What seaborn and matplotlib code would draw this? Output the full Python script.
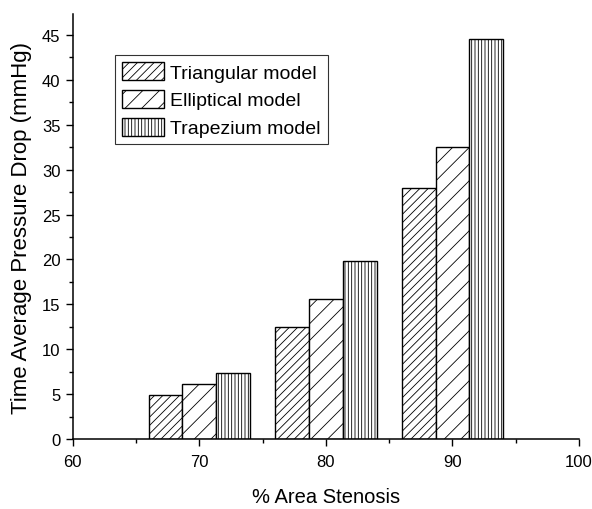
import pandas as pd
import matplotlib.pyplot as plt
import seaborn as sns
from matplotlib.ticker import MultipleLocator

# -----------------------------
# DATA
# -----------------------------
stenosis = [70, 80, 90]
models = ["Triangular model", "Elliptical model", "Trapezium model"]
triangular = [4.9, 12.5, 28.0]
elliptical = [6.1, 15.6, 32.5]
trapezium = [7.4, 19.8, 44.6]
hatches = ["////", "//", "|||||"]

df = pd.DataFrame({
    "stenosis": stenosis * 3,
    "model": [m for m in models for _ in stenosis],
    "drop": triangular + elliptical + trapezium,
})

# -----------------------------
# STYLE
# -----------------------------
sns.set_style("ticks")
plt.rcParams["font.family"] = ["Liberation Sans", "DejaVu Sans"]
plt.rcParams["hatch.linewidth"] = 0.6
plt.rcParams["text.color"] = "black"
plt.rcParams["axes.labelcolor"] = "black"
plt.rcParams["xtick.color"] = "black"
plt.rcParams["ytick.color"] = "black"

fig, ax = plt.subplots(figsize=(5.92, 5.10), dpi=100)
fig.subplots_adjust(left=0.123, right=0.978, bottom=0.137, top=0.97)

sns.barplot(data=df, x="stenosis", y="drop", hue="model", hue_order=models,
            native_scale=True, width=0.8, palette=["white"] * 3, saturation=1,
            edgecolor="black", linewidth=1.0, legend=False, ax=ax)

for cont, h in zip(ax.containers, hatches):
    for bar in cont:
        bar.set_hatch(h)
        bar.set_edgecolor("black")

# -----------------------------
# AXES
# -----------------------------
ax.set_xlim(60, 100)
ax.set_ylim(0, 47.3)
ax.xaxis.set_major_locator(MultipleLocator(10))
ax.xaxis.set_minor_locator(MultipleLocator(5))
ax.yaxis.set_major_locator(MultipleLocator(5))
ax.yaxis.set_minor_locator(MultipleLocator(2.5))
ax.tick_params(which="major", direction="out", length=5, width=1, labelsize=12,
               color="black", labelcolor="black")
ax.tick_params(which="minor", direction="out", length=3, width=1, color="black")
ax.tick_params(axis="x", which="major", pad=6)
ax.tick_params(axis="y", which="major", pad=4)
for s in ["left", "bottom"]:
    ax.spines[s].set_linewidth(1.1)
    ax.spines[s].set_color("black")
sns.despine(ax=ax)

ax.set_xlabel("% Area Stenosis", fontsize=14.5, labelpad=13)
ax.set_ylabel("Time Average Pressure Drop (mmHg)", fontsize=16, labelpad=7)

leg = ax.legend(ax.containers, models, loc="upper left", bbox_to_anchor=(0.083, 0.904),
                borderaxespad=0, fontsize=14, frameon=True, fancybox=False,
                edgecolor="black", handlelength=2.2, handleheight=1.05,
                labelspacing=0.42, handletextpad=0.3, borderpad=0.35)
leg.get_frame().set_linewidth(0.8)

plt.savefig("out.png", dpi=100)
